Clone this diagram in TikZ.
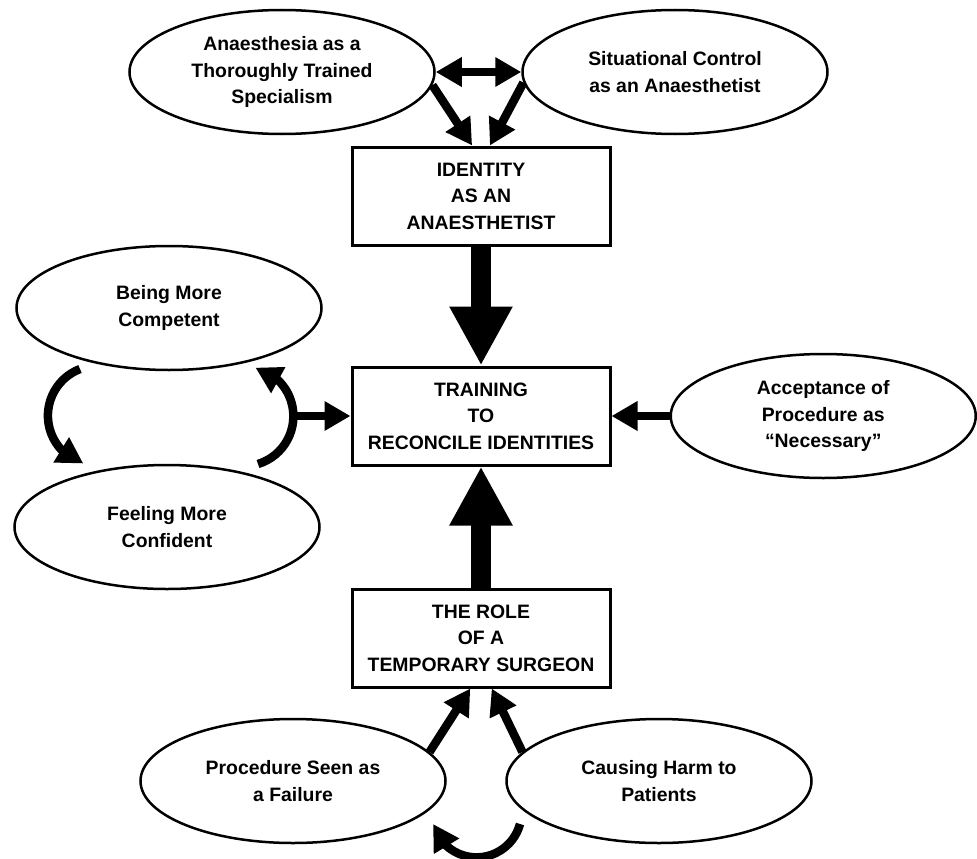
\documentclass[tikz,border=0pt]{standalone}
\usepackage{fontspec}
\setmainfont{Liberation Sans}
\usetikzlibrary{positioning,shapes.geometric,arrows.meta,bending}

\begin{document}
\begin{tikzpicture}[x=1pt,y=-1pt,
    every node/.style={font=\fontsize{19.4}{26.5}\selectfont\bfseries, align=center},
    box/.style={draw, rectangle, line width=3pt, minimum width=258pt, minimum height=98pt},
    oval/.style={draw, ellipse, line width=2.5pt, minimum width=305pt, minimum height=124pt, inner sep=0pt},
    bigArrow/.style={line width=20pt, -{Triangle[width=59pt,length=59pt]}},
    midArrow/.style={line width=8.5pt, -{Triangle[width=28pt,length=26pt]}},
    dblArrow/.style={line width=8.5pt, {Triangle[width=28pt,length=26pt]}-{Triangle[width=28pt,length=26pt]}}]
  \useasboundingbox (0,0) rectangle (977,859);

  % Riquadri centrali
  \node[box] (identity) at (481,196) {IDENTITY\\AS AN\\ANAESTHETIST};
  \node[box, below=119pt of identity] (training) {TRAINING\\TO\\RECONCILE IDENTITIES};
  \node[box, below=121pt of training] (role) {THE ROLE\\OF A\\TEMPORARY SURGEON};

  % Ellissi
  \node[oval] (specialism) at (282,72) {Anaesthesia as a\\Thoroughly Trained\\Specialism};
  \node[oval] (control) at (675,72) {Situational Control\\as an Anaesthetist};
  \node[oval] (competent) at (169,308) {Being More\\Competent};
  \node[oval] (confident) at (167,527) {Feeling More\\Confident};
  \node[oval, right=58pt of training] (acceptance) {Acceptance of\\Procedure as\\``Necessary''};
  \node[oval] (failure) at (293,781) {Procedure Seen as\\a Failure};
  \node[oval] (harm) at (659,781) {Causing Harm to\\Patients};

  % Punti dei cicli
  \coordinate (loopLstart) at (80,369);
  \coordinate (loopRstart) at (258,464);
  \coordinate[left=57pt of training.west] (loopR);
  \coordinate (loopBstart) at (520,824);

  % Frecce
  \draw[dblArrow] (specialism.east) -- (control.west);
  \draw[midArrow] (specialism.-5) -- (identity.100);
  \draw[midArrow] (control.184) -- (identity.80);
  \draw[bigArrow] (identity.south) -- (training.north);
  \draw[bigArrow] (role.north) -- (training.south);
  \draw[midArrow] (acceptance.west) -- (training.east);
  \draw[midArrow] (loopLstart) arc[start angle=249, end angle=107, radius=50];
  \draw[midArrow] (loopRstart) arc[start angle=73, end angle=-76, radius=50];
  \draw[midArrow] (loopR) -- (training.west);
  \draw[midArrow] (failure.12) -- (role.-102);
  \draw[midArrow] (harm.168) -- (role.-78);
  \draw[midArrow] (loopBstart) arc[start angle=15, end angle=165, radius=45];
\end{tikzpicture}
\end{document}
